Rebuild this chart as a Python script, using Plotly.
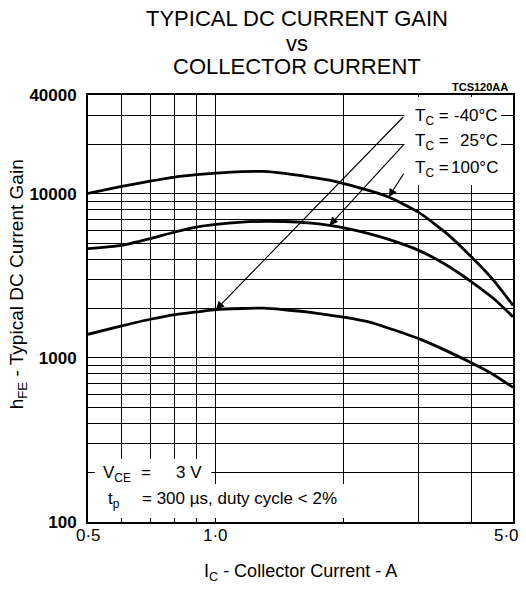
import numpy as np
import plotly.graph_objects as go

# ---------------- data ----------------
collector_current_A = [0.5, 0.6, 0.7, 0.8, 0.9, 1.0, 1.15, 1.3, 1.45, 1.65, 1.85,
                       2.0, 2.3, 2.55, 3.0, 3.5, 4.0, 4.5, 5.0]
hfe_100C = [10050, 11090, 11940, 12640, 13070, 13360, 13650, 13680, 13300, 12700, 12100,
            11550, 10450, 9550, 7700, 5700, 4100, 2970, 2090]
hfe_25C = [4630, 4850, 5330, 5850, 6270, 6510, 6720, 6800, 6780, 6650, 6420,
           6190, 5700, 5270, 4520, 3660, 2900, 2300, 1780]
hfe_m40C = [1393, 1566, 1720, 1838, 1906, 1970, 2000, 2010, 1965, 1900, 1825,
            1770, 1650, 1515, 1310, 1100, 930, 790, 661]

x_major = [0.5, 1.0, 5.0]
x_major_text = ["0·5", "1·0", "5·0"]
x_minor = [0.6, 0.7, 0.8, 0.9, 2.0, 3.0, 4.0]
y_major = [100, 1000, 10000, 40000]
y_major_text = ["100", "1000", "10000", "40000"]
y_minor = [200, 300, 400, 500, 600, 700, 800, 900,
           2000, 3000, 4000, 5000, 6000, 7000, 8000, 9000,
           20000, 30000]

FONT = "Liberation Sans, Arial, sans-serif"

# page geometry (the browser body adds an 8px margin around the figure)
OFF = 8
PAGE_W, PAGE_H = 526, 589
PL, PT, PR, PB = 88, 95, 515, 522          # plot area in page pixels
PW, PH = PR - PL, PB - PT
W, H = PAGE_W - OFF, PAGE_H - OFF


def px(xp):
    return (xp - PL) / PW


def py(yp):
    return (PB - yp) / PH


fig = go.Figure()
for yvals in (hfe_100C, hfe_25C, hfe_m40C):
    fig.add_trace(go.Scatter(x=collector_current_A, y=yvals, mode="lines",
                             line=dict(color="black", width=2.8, shape="spline", smoothing=0.6),
                             showlegend=False, hoverinfo="skip"))

grid = dict(showgrid=True, gridcolor="black", gridwidth=1.4)
axis_common = dict(type="log", showline=True, linecolor="black", linewidth=1.8,
                   mirror=True, ticks="", zeroline=False, **grid)

fig.update_xaxes(**axis_common, range=[np.log10(0.5), np.log10(5.0)],
                 tickvals=x_major, showticklabels=False,
                 minor=dict(tickvals=x_minor, ticks="", **grid))
fig.update_yaxes(**axis_common, range=[2, np.log10(40000)],
                 tickvals=y_major, ticktext=y_major_text, ticklabelstandoff=6,
                 tickfont=dict(family=FONT, size=17, color="black", weight="bold"),
                 minor=dict(tickvals=y_minor, ticks="", **grid))

# white boxes that interrupt the grid behind the labels (page pixels)
boxes = [
    (406, 503, 97, 185),   # temperature labels
    (95, 212, 459, 518),   # V_CE row
    (95, 356, 484, 518),   # t_p row
]
for x0, x1, y0, y1 in boxes:
    fig.add_shape(type="rect", xref="paper", yref="paper",
                  x0=px(x0), x1=px(x1), y0=py(y1), y1=py(y0),
                  fillcolor="white", line=dict(width=0), layer="above")

ann = []


def text(t, xp, yp, size=18, xanchor="left", weight="normal", angle=0):
    ann.append(dict(text=t, xref="paper", yref="paper", x=px(xp), y=py(yp),
                    xanchor=xanchor, yanchor="middle", showarrow=False, textangle=angle,
                    font=dict(family=FONT, size=size, color="black", weight=weight)))


# x tick labels (at the data positions of the major ticks)
for v, t in zip(x_major, x_major_text):
    ann.append(dict(text=t, xref="x", yref="paper", x=np.log10(v), y=py(535),
                    xanchor="center" if v < 5 else "right", yanchor="middle",
                    xshift=0 if v < 5 else 8, showarrow=False,
                    font=dict(family=FONT, size=17, color="black")))

# title
text("TYPICAL DC CURRENT GAIN", 298, 18, size=22, xanchor="center")
text("vs", 298, 43, size=22, xanchor="center")
text("COLLECTOR CURRENT", 298, 67, size=22, xanchor="center")
text("TCS120AA", 512, 87, size=11, xanchor="right", weight="bold")

# axis titles
text("I<sub>C</sub> - Collector Current - A", 302, 572, size=18, xanchor="center")
text("h<sub>FE</sub> - Typical DC Current Gain", 18, 284, size=19, xanchor="center", angle=-90)

# temperature labels
for yp, val in [(115, "-40°C"), (140, "25°C"), (167, "100°C")]:
    text("T<sub>C</sub> =", 415, yp + 2, size=17)
    text(val, 502, yp, size=17, xanchor="right")

# conditions
text("V<sub>CE</sub>", 101, 474, size=17)
text("=", 139, 472, size=17)
text("3 V", 174, 472, size=17)
text("t<sub>p</sub>", 106, 500, size=17)
text("= 300 µs, duty cycle < 2%", 140, 498, size=17)

# leader arrows (tips on the curves, tails at the label box)
arrows = [
    (collector_current_A[5], hfe_m40C[5], 2.78, 30000),
    (collector_current_A[10], hfe_25C[10], 2.78, 20200),
    (collector_current_A[13], hfe_100C[13], 2.78, 13550),
]
for xt, yt, xa, ya in arrows:
    ann.append(dict(text="", x=np.log10(xt), y=np.log10(yt), xref="x", yref="y",
                    ax=np.log10(xa), ay=np.log10(ya), axref="x", ayref="y",
                    showarrow=True, arrowhead=2, arrowsize=1.5, arrowwidth=1.1,
                    arrowcolor="black", standoff=0, startstandoff=0))

fig.update_layout(width=W, height=H,
                  margin=dict(l=PL - OFF, r=W - (PR - OFF), t=PT - OFF, b=H - (PB - OFF), pad=0),
                  paper_bgcolor="white", plot_bgcolor="white",
                  annotations=ann, showlegend=False)

fig.write_html("out.html")
